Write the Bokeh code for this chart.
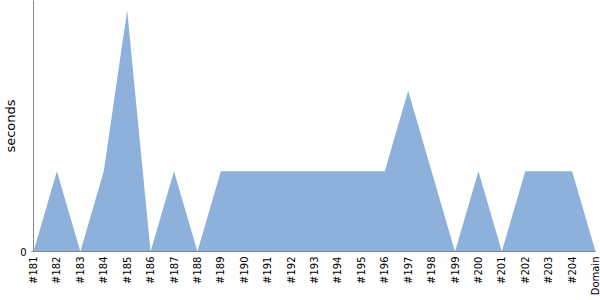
import math
from bokeh.plotting import figure
from bokeh.models import FixedTicker, Range1d, Title
from bokeh.embed import file_html
from bokeh.resources import INLINE

labels = ["#181", "#182", "#183", "#184", "#185", "#186", "#187", "#188", "#189", "#190",
          "#191", "#192", "#193", "#194", "#195", "#196", "#197", "#198", "#199", "#200",
          "#201", "#202", "#203", "#204", "Domain"]
seconds = [0, 1, 0, 1, 3, 0, 1, 0, 1, 1,
           1, 1, 1, 1, 1, 1, 2, 1, 0, 1,
           0, 1, 1, 1, 0]
y_title = "seconds"

xs = list(range(len(labels)))

p = figure(width=600, height=300, output_backend="svg", toolbar_location=None,
           x_range=Range1d(0, len(labels) - 1), y_range=Range1d(0, 3.125),
           min_border_left=0, min_border_right=5, min_border_top=0, min_border_bottom=49)
p.varea(x=xs, y1=[0] * len(xs), y2=seconds, fill_color="#8EB1DB", fill_alpha=1.0)

p.xgrid.visible = False
p.ygrid.visible = False
p.outline_line_color = None

p.xaxis.ticker = FixedTicker(ticks=xs)
p.xaxis.major_label_overrides = {i: l for i, l in enumerate(labels)}
p.xaxis.major_label_orientation = math.pi / 2
p.xaxis.major_tick_line_color = None
p.xaxis.major_tick_in = 0
p.xaxis.major_tick_out = 0
p.xaxis.minor_tick_line_color = None
p.xaxis.minor_tick_in = 0
p.xaxis.minor_tick_out = 0
p.xaxis.axis_line_color = "#888888"
p.xaxis.major_label_text_font = "DejaVu Sans"
p.xaxis.major_label_text_font_size = "10px"
p.xaxis.major_label_text_color = "#000000"
p.xaxis.major_label_standoff = 5

p.yaxis.ticker = FixedTicker(ticks=[0])
p.yaxis.major_label_text_font = "DejaVu Sans"
p.yaxis.major_label_text_font_size = "10px"
p.yaxis.major_label_text_color = "#000000"
p.yaxis.major_tick_line_color = "#888888"
p.yaxis.major_tick_in = 0
p.yaxis.major_tick_out = 2
p.yaxis.minor_tick_line_color = None
p.yaxis.minor_tick_in = 0
p.yaxis.minor_tick_out = 0
p.yaxis.axis_line_color = "#888888"
p.yaxis.major_label_standoff = 5

p.add_layout(Title(text=y_title, align="center", text_font="DejaVu Sans",
                   text_font_size="13px", text_font_style="normal",
                   text_color="#000000", standoff=0, offset=0), "left")

open("out.html", "w").write(file_html(p, INLINE))
